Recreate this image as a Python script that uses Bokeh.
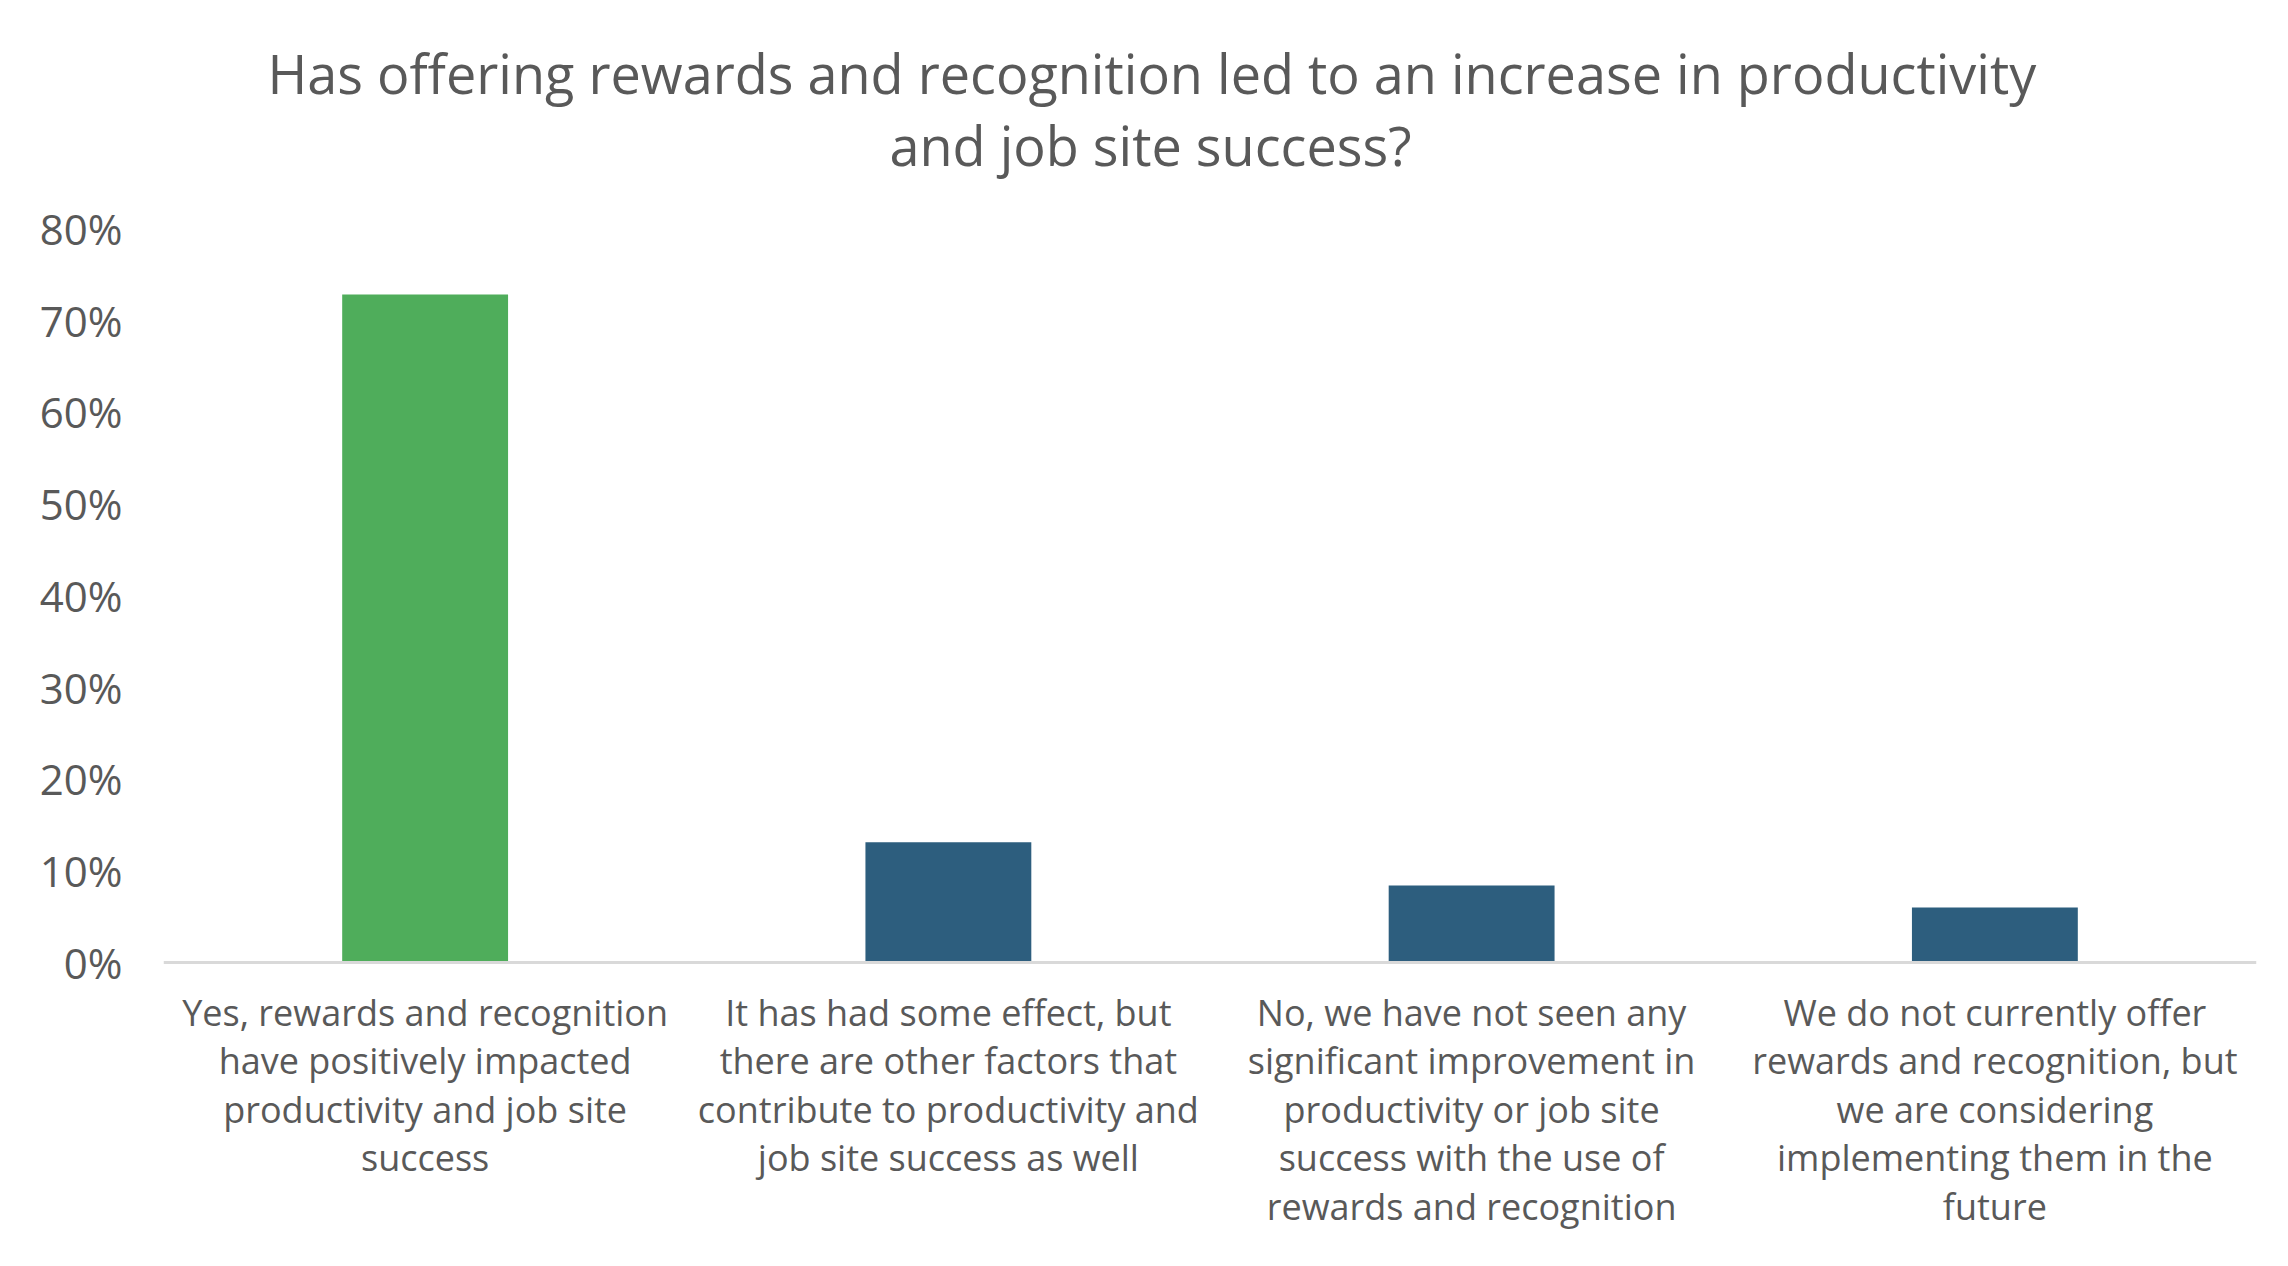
from bokeh.plotting import figure
from bokeh.models import FactorRange, Title, Span, NumeralTickFormatter, FixedTicker, ColumnDataSource
from bokeh.core.properties import value
from bokeh.embed import file_html
from bokeh.resources import INLINE

categories = [
    "Yes, rewards and recognition have positively impacted productivity and job site success",
    "It has had some effect, but there are other factors that contribute to productivity and job site success as well",
    "No, we have not seen any significant improvement in productivity or job site success with the use of rewards and recognition",
    "We do not currently offer rewards and recognition, but we are considering implementing them in the future",
]
category_labels = [
    "Yes, rewards and recognition\nhave positively impacted\nproductivity and job site\nsuccess",
    "It has had some effect, but\nthere are other factors that\ncontribute to productivity and\njob site success as well",
    "No, we have not seen any\nsignificant improvement in\nproductivity or job site\nsuccess with the use of\nrewards and recognition",
    "We do not currently offer\nrewards and recognition, but\nwe are considering\nimplementing them in the\nfuture",
]
values = [0.728, 0.131, 0.084, 0.060]
colors = ["#4FAD5B", "#2D5E7E", "#2D5E7E", "#2D5E7E"]
y_ticks = [0, 0.1, 0.2, 0.3, 0.4, 0.5, 0.6, 0.7, 0.8]
title_lines = ["Has offering rewards and recognition led to an increase in productivity",
               "and job site success?"]

FONT = "Open Sans"
TXT = "#595959"

p = figure(x_range=FactorRange(factors=categories, range_padding=0),
           y_range=(-0.3052, 0.8), width=2272, height=1250,
           output_backend="svg", toolbar_location=None,
           min_border_left=163, min_border_right=16,
           min_border_top=228, min_border_bottom=8)

src = ColumnDataSource(dict(x=categories, top=values, color=colors, label=category_labels,
                            ly=[-0.0277] * len(categories)))
p.vbar(x="x", top="top", width=0.317, color="color", line_color=None, source=src)

p.add_layout(Span(location=0, dimension="width", line_color="#D9D9D9", line_width=3))

p.text(x="x", y="ly", text="label", source=src, text_align="center", text_baseline="top",
       text_font=value(FONT), text_font_size="36px", text_color=TXT, text_line_height=0.99)

# titles (added bottom line first so it sits nearest to the plot)
p.add_layout(Title(text=title_lines[1], align="left", offset=726, text_font=FONT,
                   text_font_size="54px", text_color=TXT, text_font_style="normal",
                   standoff=94), "above")
p.add_layout(Title(text=title_lines[0], align="left", offset=104, text_font=FONT,
                   text_font_size="54px", text_color=TXT, text_font_style="normal",
                   standoff=-102), "above")

p.outline_line_color = None
p.xgrid.grid_line_color = None
p.ygrid.grid_line_color = None
p.xaxis.visible = False

p.yaxis.ticker = FixedTicker(ticks=y_ticks)
p.yaxis.formatter = NumeralTickFormatter(format="0%")
p.yaxis.axis_line_color = None
p.yaxis.major_tick_line_color = None
p.yaxis.minor_tick_line_color = None
p.yaxis.major_label_text_font = FONT
p.yaxis.major_label_text_font_size = "42px"
p.yaxis.major_label_text_color = TXT
p.yaxis.major_label_standoff = 35

open("out.html", "w").write(file_html(p, INLINE))
